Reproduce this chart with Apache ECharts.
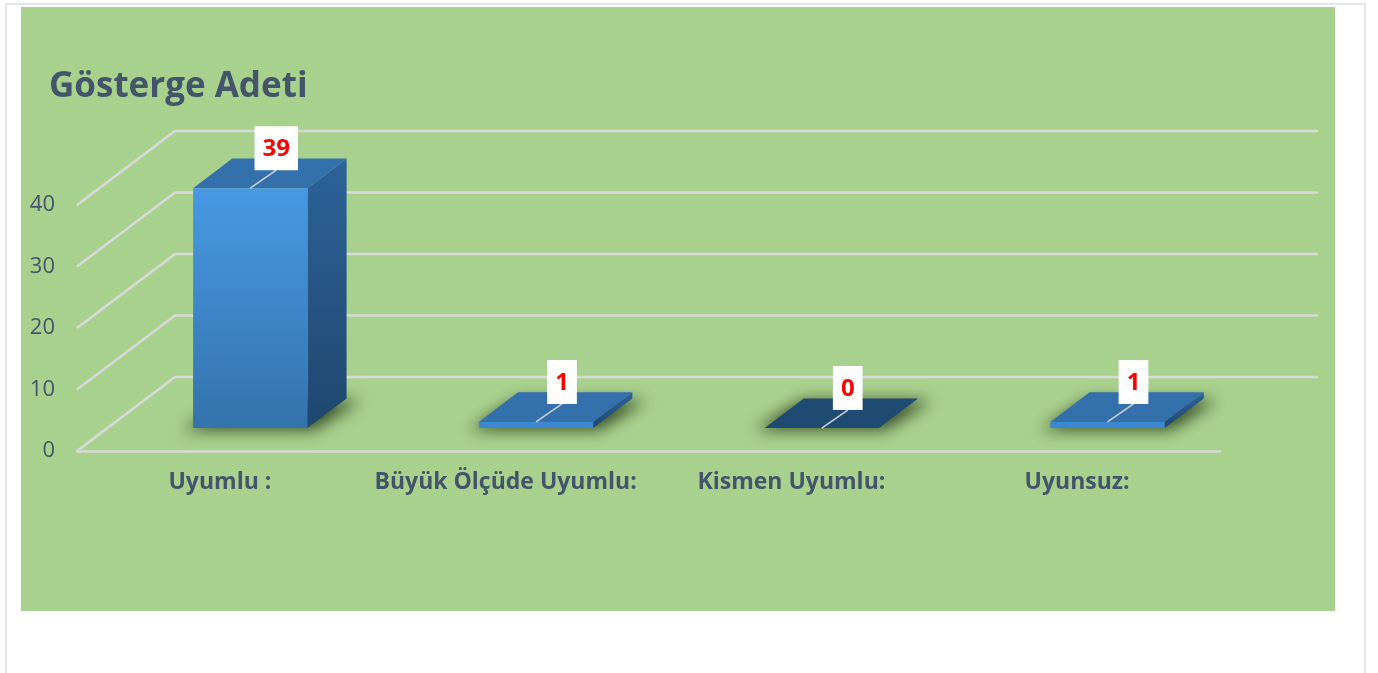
<!DOCTYPE html>
<html>
<head>
<meta charset="utf-8">
<script src="https://cdn.jsdelivr.net/npm/echarts@6/dist/echarts.min.js"></script>
<style>
    html, body {
        margin: 0;
        padding: 0;
        background: #fff;
        width: 1378px;
        height: 673px;
        overflow: hidden;
    }
    .frame {
        position: absolute;
        left: 5px;
        top: 3px;
        width: 1361px;
        height: 700px;
        border: 2px solid #e3e6ea;
        box-sizing: border-box;
    }
    .panel {
        position: absolute;
        left: 21px;
        top: 7px;
        width: 1314px;
        height: 604px;
        background: #a9d18e;
    }
    #chart {
        position: absolute;
        left: 0;
        top: 0;
        width: 1378px;
        height: 673px;
    }
</style>
</head>
<body>
<div class="frame"></div>
<div class="panel"></div>
<div id="chart"></div>
<script>
// veriler
const categories = ['Uyumlu :', 'Büyük Ölçüde Uyumlu:', 'Kismen Uyumlu:', 'Uyunsuz:']
const values = [39, 1, 0, 1]
const yTicks = [0, 10, 20, 30, 40]

// 3B görünüm: zeminin derinliği (piksel)
const DX = 98
const DY = 74
const FRONT = 0.31   // çubuğun ön yüzü
const BACK = 0.71    // çubuğun arka yüzü
const BAR_W = 0.4
const FAR = 4000     // gölgeyi yalnız bulanık çizmek için

const textColor = '#44546a'
const gridColor = '#d9d9d9'
const font = '"Open Sans", "Noto Sans", sans-serif'

const chart = echarts.init(document.getElementById('chart'))

const renderWall = (params, api) => {
    const cs = params.coordSys
    const y = api.coord([0, api.value(1)])[1]
    const x0 = cs.x
    const x1 = cs.x + cs.width
    return {
        type: 'polyline',
        shape: { points: [[x0, y], [x0 + DX, y - DY], [x1 + DX, y - DY]] },
        style: { stroke: gridColor, lineWidth: 2.5, fill: null },
        silent: true
    }
}

const renderBar = (params, api) => {
    const i = api.value(0)
    const v = api.value(1)
    const base = api.coord([i, 0])
    const top = api.coord([i, v])
    const bw = api.size([1, 0])[0] * BAR_W
    const fx = DX * FRONT, fy = DY * FRONT
    const bx = DX * BACK, by = DY * BACK
    const l = base[0] - bw / 2
    const r = base[0] + bw / 2
    const yb = base[1]
    const yt = top[1]

    const children = []
    // gölge
    children.push({
        type: 'polygon',
        shape: {
            points: [
                [l + fx - 10 - FAR, yb - fy + 2],
                [r + fx + 6 - FAR, yb - fy + 2],
                [r + bx + 14 - FAR, yb - by + 2],
                [l + bx - 2 - FAR, yb - by + 2]
            ]
        },
        style: { fill: '#000', shadowBlur: 16, shadowColor: 'rgba(35,55,20,0.85)', shadowOffsetX: FAR },
        silent: true
    })
    if (v === 0) {
        children.push({
            type: 'polygon',
            shape: { points: [[l + fx, yb - fy], [r + fx, yb - fy], [r + bx, yb - by], [l + bx, yb - by]] },
            style: { fill: '#1f4b73' }
        })
    } else {
        // yan yüz
        children.push({
            type: 'polygon',
            shape: { points: [[r + fx, yt - fy], [r + bx, yt - by], [r + bx, yb - by], [r + fx, yb - fy]] },
            style: {
                fill: new echarts.graphic.LinearGradient(0, 0, 0, 1, [
                    { offset: 0, color: '#2d6399' },
                    { offset: 1, color: '#1f476f' }
                ])
            }
        })
        // üst yüz
        children.push({
            type: 'polygon',
            shape: { points: [[l + fx, yt - fy], [r + fx, yt - fy], [r + bx, yt - by], [l + bx, yt - by]] },
            style: { fill: '#3370ac' }
        })
        // ön yüz
        children.push({
            type: 'rect',
            shape: { x: l + fx, y: yt - fy, width: bw, height: yb - yt },
            style: {
                fill: v > 5
                    ? new echarts.graphic.LinearGradient(0, 0, 0, 1, [
                        { offset: 0, color: '#4799e2' },
                        { offset: 1, color: '#3473ad' }
                    ])
                    : '#3d88d2'
            }
        })
    }
    // etiket
    const ax = base[0] + fx
    const ay = yt - fy
    const lx = ax + 26
    const ly = ay - 18
    children.push({
        type: 'line',
        shape: { x1: ax, y1: ay, x2: lx, y2: ly },
        style: { stroke: '#cfd3d6', lineWidth: 1.5 }
    })
    children.push({
        type: 'text',
        x: lx,
        y: ly,
        style: {
            text: String(v),
            fill: '#ff0000',
            fontSize: 24,
            fontWeight: 'bold',
            fontFamily: font,
            backgroundColor: '#ffffff',
            padding: [8, 8, 6, 8],
            lineHeight: 30,
            align: 'center',
            verticalAlign: 'bottom'
        }
    })
    return { type: 'group', children }
}

const option = {
    animation: false,
    title: {
        text: 'Gösterge Adeti',
        left: 44,
        top: 65,
        textStyle: { color: textColor, fontSize: 35, fontWeight: 'bold', fontFamily: font }
    },
    grid: { left: 77, top: 205, width: 1143, height: 246 },
    xAxis: {
        type: 'category',
        data: categories,
        axisLine: { lineStyle: { color: gridColor, width: 2.5 } },
        axisTick: { show: false },
        axisLabel: { interval: 0, color: textColor, fontSize: 23, fontWeight: 'bold', fontFamily: font, margin: 20 },
        splitLine: { show: false }
    },
    yAxis: {
        type: 'value',
        min: 0,
        max: 40,
        interval: 10,
        axisLine: { show: false },
        axisTick: { show: false },
        axisLabel: { color: textColor, fontSize: 22, fontFamily: font, margin: 22 },
        splitLine: { show: false }
    },
    series: [
        {
            type: 'custom',
            name: 'wall',
            renderItem: renderWall,
            data: yTicks.map(t => [0, t]),
            encode: { x: 0, y: 1 },
            silent: true,
            z: 1
        },
        {
            type: 'custom',
            name: 'Gösterge Adeti',
            renderItem: renderBar,
            data: values.map((v, i) => [i, v]),
            encode: { x: 0, y: 1 },
            clip: false,
            z: 2
        }
    ]
}

chart.setOption(option)
</script>
</body>
</html>
